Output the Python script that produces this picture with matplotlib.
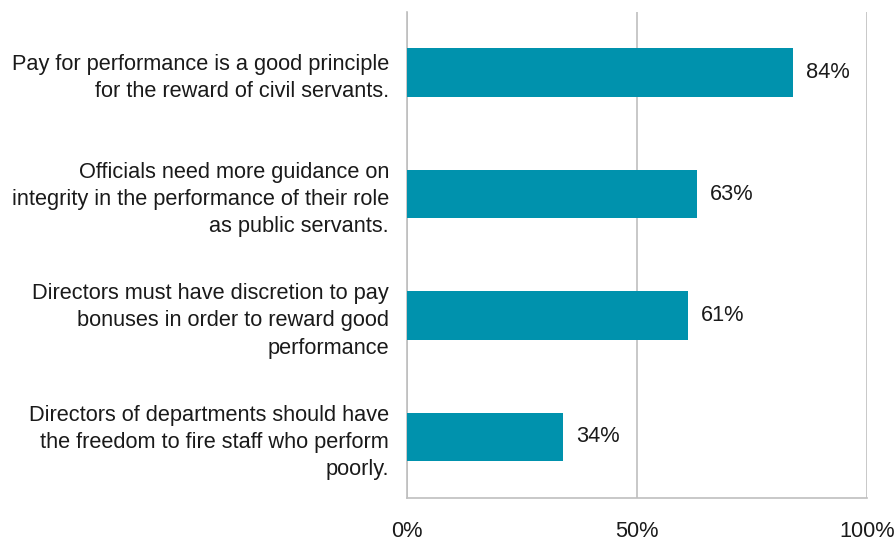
import matplotlib.pyplot as plt

# survey statements, top to bottom
statements = [
    "Pay for performance is a good principle\nfor the reward of civil servants.",
    "Officials need more guidance on\nintegrity in the performance of their role\nas public servants.",
    "Directors must have discretion to pay\nbonuses in order to reward good\nperformance",
    "Directors of departments should have\nthe freedom to fire staff who perform\npoorly.",
]
agree_pct = [84, 63, 61, 34]
x_ticks = [0, 50, 100]
x_tick_labels = ["0%", "50%", "100%"]

plt.rcParams['font.family'] = ['Liberation Sans', 'DejaVu Sans']

fig = plt.figure(figsize=(8.96, 5.4), dpi=100)
ax = fig.add_axes([407 / 896, 1 - 497.5 / 540, 460 / 896, 485.5 / 540])

grid_col = "#BFBFBF"
text_col = "#1A1A1A"
fs = 15.7

pos = list(range(len(statements)))
ax.barh(pos, agree_pct, height=0.4, color="#0092AD", zorder=3)

for p, v in zip(pos, agree_pct):
    ax.text(v + 2.8, p, f"{v}%", va="center", ha="left", fontsize=fs, color=text_col)

ax.set_xlim(0, 100)
ax.set_ylim(len(statements) - 0.5, -0.5)
ax.set_xticks(x_ticks)
ax.set_xticklabels(x_tick_labels, fontsize=fs, color=text_col)
ax.set_yticks(pos)
ax.set_yticklabels(statements, fontsize=fs, color=text_col, linespacing=1.38)
ax.tick_params(axis="both", length=0)
ax.tick_params(axis="x", pad=17)
ax.tick_params(axis="y", pad=13)

ax.xaxis.grid(True, color=grid_col, linewidth=1.2, zorder=0)
ax.set_axisbelow(True)
for side in ("top", "right"):
    ax.spines[side].set_visible(False)
for side in ("left", "bottom"):
    ax.spines[side].set_color(grid_col)
    ax.spines[side].set_linewidth(1.2)

fig.savefig("out.png", dpi=100)
